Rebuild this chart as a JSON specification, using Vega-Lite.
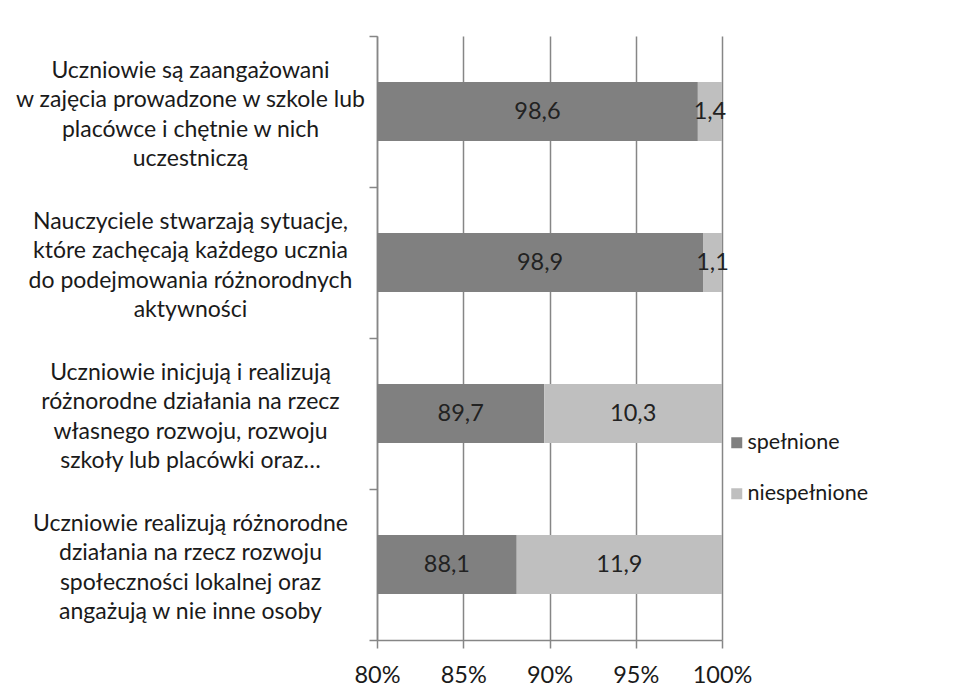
{
  "$schema": "https://vega.github.io/schema/vega-lite/v6.json",
  "width": 345,
  "height": 604,
  "autosize": {"type": "none"},
  "padding": {"left": 377, "top": 36, "right": 235, "bottom": 59},
  "background": "white",
  "config": {
    "view": {"stroke": null},
    "font": "Lato",
    "locale": {"number": {"decimal": ",", "thousands": " ", "grouping": [3], "currency": ["", " zł"]}}
  },
  "data": {
    "values": [
      {"item": "Uczniowie są zaangażowani|w zajęcia prowadzone w szkole lub|placówce i chętnie w nich|uczestniczą", "status": "spełnione", "value": 98.6},
      {"item": "Uczniowie są zaangażowani|w zajęcia prowadzone w szkole lub|placówce i chętnie w nich|uczestniczą", "status": "niespełnione", "value": 1.4},
      {"item": "Nauczyciele stwarzają sytuacje,|które zachęcają każdego ucznia|do podejmowania  różnorodnych|aktywności", "status": "spełnione", "value": 98.9},
      {"item": "Nauczyciele stwarzają sytuacje,|które zachęcają każdego ucznia|do podejmowania  różnorodnych|aktywności", "status": "niespełnione", "value": 1.1},
      {"item": "Uczniowie inicjują i realizują|różnorodne działania na rzecz|własnego rozwoju, rozwoju|szkoły lub placówki oraz…", "status": "spełnione", "value": 89.7},
      {"item": "Uczniowie inicjują i realizują|różnorodne działania na rzecz|własnego rozwoju, rozwoju|szkoły lub placówki oraz…", "status": "niespełnione", "value": 10.3},
      {"item": "Uczniowie realizują różnorodne|działania na rzecz rozwoju|społeczności lokalnej oraz|angażują w nie inne osoby", "status": "spełnione", "value": 88.1},
      {"item": "Uczniowie realizują różnorodne|działania na rzecz rozwoju|społeczności lokalnej oraz|angażują w nie inne osoby", "status": "niespełnione", "value": 11.9}
    ]
  },
  "resolve": {"axis": {"y": "independent"}},
  "layer": [
    {
      "mark": {"type": "bar", "height": {"band": 0.39}, "clip": true},
      "encoding": {
        "y": {
          "field": "item",
          "type": "nominal",
          "sort": null,
          "scale": {"paddingInner": 0, "paddingOuter": 0},
          "axis": {
            "orient": "left",
            "title": null,
            "domain": false,
            "ticks": false,
            "labelAlign": "center",
            "labelBaseline": "middle",
            "labelPadding": 187,
            "labelFontSize": 23,
            "labelLineHeight": 29.5,
            "labelOffset": -41,
            "labelColor": "#1a1a1a",
            "labelLimit": 400,
            "labelExpr": "split(datum.value, '|')"
          }
        },
        "x": {
          "field": "value",
          "type": "quantitative",
          "stack": "zero",
          "scale": {"domain": [80, 100], "nice": false, "zero": false},
          "axis": {
            "title": null,
            "values": [80, 85, 90, 95, 100],
            "labelExpr": "datum.value + '%'",
            "grid": true,
            "gridColor": "#868686",
            "gridWidth": 1.5,
            "domainColor": "#868686",
            "domainWidth": 1.5,
            "tickColor": "#868686",
            "tickWidth": 1.5,
            "tickSize": 8,
            "labelFontSize": 23.5,
            "labelPadding": 15,
            "labelColor": "#1a1a1a",
            "labelFlush": false
          }
        },
        "order": {"field": "status", "sort": "descending"},
        "color": {
          "field": "status",
          "type": "nominal",
          "sort": ["spełnione", "niespełnione"],
          "scale": {"domain": ["spełnione", "niespełnione"], "range": ["#808080", "#bfbfbf"]},
          "legend": {
            "title": null,
            "orient": "none",
            "legendX": 349,
            "legendY": 396,
            "symbolType": "square",
            "symbolSize": 121,
            "symbolStrokeWidth": 0,
            "labelFontSize": 21.5,
            "labelColor": "#1a1a1a",
            "labelOffset": 0,
            "rowPadding": 28
          }
        }
      }
    },
    {
      "transform": [
        {"calculate": "datum.status == 'spełnione' ? (80 + datum.value) / 2 : 100 - datum.value / 2", "as": "mid"}
      ],
      "mark": {"type": "text", "fontSize": 23.5, "color": "#222222", "baseline": "middle"},
      "encoding": {
        "y": {
          "field": "item",
          "type": "nominal",
          "sort": null,
          "axis": {
            "orient": "left",
            "title": null,
            "labels": false,
            "domainColor": "#868686",
            "domainWidth": 1.5,
            "tickColor": "#868686",
            "tickWidth": 1.5,
            "tickSize": 8,
            "tickBand": "extent"
          }
        },
        "x": {"field": "mid", "type": "quantitative"},
        "text": {"field": "value", "type": "quantitative", "format": ".1f"}
      }
    }
  ]
}
